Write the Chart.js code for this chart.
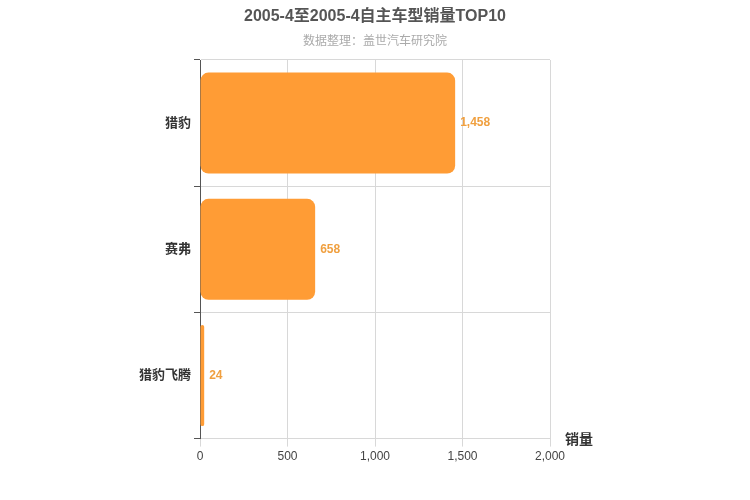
<!DOCTYPE html>
<html><head><meta charset="utf-8">
<script src="https://cdn.jsdelivr.net/npm/chart.js@4"></script>
<style>body{margin:0;background:#fff}#w{width:750px;height:500px}</style>
</head><body><div id="w"><canvas id="c"></canvas></div>
<script>
const categories = ["猎豹","赛弗","猎豹飞腾"];
const sales = [1458, 658, 24];
const xTicks = [0, 500, 1000, 1500, 2000];
const FONT = "'Liberation Sans', 'Noto Sans CJK SC', sans-serif";
const extra = {
  id: 'extra',
  afterDraw(chart) {
    const ctx = chart.ctx;
    ctx.save();
    ctx.textAlign = 'center';
    ctx.fillStyle = '#555';
    ctx.font = "bold 16px " + FONT;
    ctx.fillText("2005-4至2005-4自主车型销量TOP10", 375, 21);
    ctx.fillStyle = '#aaa';
    ctx.font = "12px " + FONT;
    ctx.fillText("数据整理：盖世汽车研究院", 375, 45);
    ctx.fillStyle = '#333';
    ctx.font = "bold 14px " + FONT;
    ctx.textAlign = 'left';
    ctx.fillText("销量", 565, 444);
    const meta = chart.getDatasetMeta(0);
    ctx.fillStyle = '#f0a040';
    ctx.font = "bold 12px " + FONT;
    ctx.textBaseline = 'middle';
    meta.data.forEach((b, i) => {
      ctx.fillText(sales[i].toLocaleString('en-US'), b.x + 5, b.y);
    });
    ctx.restore();
  }
};
new Chart(document.getElementById('c'), {
  type: 'bar',
  data: { labels: categories, datasets: [{ data: sales, backgroundColor: '#ff9c35', borderRadius: 8, borderSkipped: false, barPercentage: 0.8, categoryPercentage: 1 }] },
  options: {
    indexAxis: 'y', responsive: true, maintainAspectRatio: false, animation: false,
    layout: { padding: { top: 60, right: 200, bottom: 33, left: 0 } },
    plugins: { legend: { display: false }, tooltip: { enabled: false } },
    scales: {
      x: { min: 0, max: 2000, afterBuildTicks: s => { s.ticks = xTicks.map(v => ({ value: v })); },
        ticks: { color: '#444', font: { family: FONT, size: 12 }, callback: v => v.toLocaleString('en-US') },
        grid: { color: '#d8d8d8', tickLength: 8 }, border: { display: false } },
      y: { afterFit: s => { s.width = 200; },
        ticks: { color: '#333', font: { family: FONT, size: 13, weight: 'bold' } },
        grid: { offset: true, color: '#d8d8d8', tickColor: '#555', tickLength: 6 },
        border: { color: '#555', width: 1 } }
    }
  },
  plugins: [extra]
});
</script></body></html>
